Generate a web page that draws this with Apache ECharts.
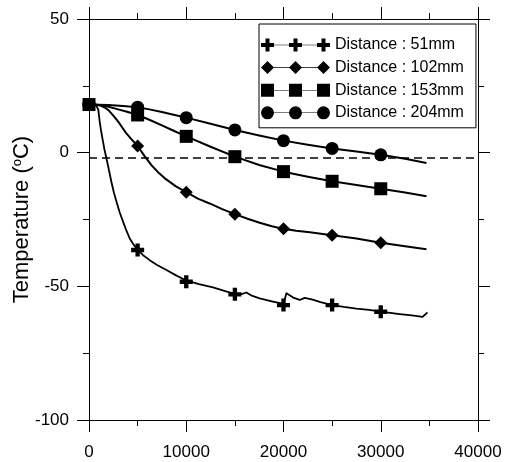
<!DOCTYPE html>
<html>
<head>
<meta charset="utf-8">
<script src="https://cdn.jsdelivr.net/npm/echarts@6/dist/echarts.min.js"></script>
<style>
html,body{margin:0;padding:0;background:#fff;}
#chart{width:505px;height:462px;}
</style>
</head>
<body>
<div id="chart"></div>
<script>
// ---- data (time in s, temperature in °C) ----
const xTicks = [0, 10000, 20000, 30000, 40000];
const yTicks = [-100, -50, 0, 50];
const seriesNames = ['Distance : 51mm', 'Distance : 102mm', 'Distance : 153mm', 'Distance : 204mm'];

const line51 = [[0,18],[700,17.9],[850,17.4],[950,16.2],[1050,13.2],[1100,11.6],[1250,8.0],[1440,4.1],[1600,1.0],[1790,-2.1],[2050,-6.5],[2300,-10.9],[2550,-14.8],[2820,-18.3],[3150,-22.3],[3500,-25.8],[3850,-29.2],[4190,-32.1],[4600,-34.5],[5000,-36.2],[5600,-38.5],[6240,-40.2],[7000,-42.0],[7960,-43.9],[9000,-46.0],[10000,-47.8],[11300,-49.2],[12750,-50.4],[14000,-51.8],[15000,-52.8],[15700,-52.9],[16180,-52.3],[16800,-53.6],[17550,-54.5],[18800,-55.6],[20000,-56.6],[20300,-52.6],[21000,-54.2],[21670,-55.1],[22180,-54.3],[23000,-55.0],[23720,-55.8],[25000,-57.0],[26200,-57.7],[27490,-58.3],[28800,-58.8],[30000,-59.5],[31950,-60.4],[33200,-60.9],[34300,-61.4],[34800,-59.8]];
const line102 = [[0,18],[800,17.9],[1200,17.6],[1600,16.9],[2000,15.9],[2300,14.7],[2650,13.2],[3000,11.6],[3400,9.5],[3800,7.4],[4400,4.9],[5000,2.5],[5700,-1.2],[6400,-4.6],[7100,-7.3],[7800,-9.6],[8900,-12.5],[10000,-14.8],[11200,-17.2],[12400,-19.0],[13700,-21.1],[15000,-23.0],[16300,-24.7],[17550,-26.2],[18800,-27.5],[20000,-28.5],[21300,-29.2],[22700,-29.8],[25000,-30.9],[27500,-32.1],[30000,-33.7],[32500,-35.0],[34700,-36.1]];
const line153 = [[0,18],[1000,17.8],[2000,17.2],[3000,16.2],[4000,15.2],[5000,14.1],[6200,12.3],[7500,10.2],[8700,8.2],[10000,6.1],[12500,2.2],[15000,-1.5],[17500,-4.6],[20000,-7.1],[22500,-9.0],[25000,-10.7],[27500,-12.1],[30000,-13.5],[32500,-14.9],[34700,-16.3]];
const line204 = [[0,18],[2000,17.8],[3500,17.5],[5000,17.0],[6200,16.2],[7500,15.2],[8700,14.2],[10000,13.1],[12500,10.8],[15000,8.5],[17500,6.4],[20000,4.5],[22500,3.0],[25000,1.6],[27500,0.4],[30000,-0.8],[32500,-2.3],[34700,-3.9]];

const markerTimes = [0, 5000, 10000, 15000, 20000, 25000, 30000];
const markers51  = [18, -36.4, -48.3, -53.0, -57.0, -57.0, -59.5];
const markers102 = [18, 2.5, -14.8, -23.0, -28.5, -30.9, -33.7];
const markers153 = [18, 14.1, 6.1, -1.5, -7.1, -10.7, -13.5];
const markers204 = [18, 17.0, 13.1, 8.5, 4.5, 1.6, -0.8];

const freezeLine = -1.8;

// ---- rendering ----
const FONT = "'Liberation Sans', Arial, sans-serif";
const crossPath = 'path://M4,0H8V4H12V8H8V12H4V8H0V4H4Z';

function legendIcon(kind) {
  const cs = [6.5, 34.5, 62.5];
  let p = 'M6,6.2H63V6.8H6Z';
  cs.forEach(c => {
    if (kind === 'cross') {
      p += `M${c-2},0H${c+2}V4.5H${c+6.5}V8.5H${c+2}V13H${c-2}V8.5H${c-6.5}V4.5H${c-2}Z`;
    } else if (kind === 'diamond') {
      p += `M${c},0L${c+6.5},6.5L${c},13L${c-6.5},6.5Z`;
    } else if (kind === 'rect') {
      p += `M${c-6.5},0H${c+6.5}V13H${c-6.5}Z`;
    } else {
      p += `M${c-6.5},6.5A6.5,6.5 0 1,1 ${c+6.5},6.5A6.5,6.5 0 1,1 ${c-6.5},6.5Z`;
    }
  });
  return 'path://' + p;
}

const pair = (ys) => markerTimes.map((t, i) => [t, ys[i]]);

function lineSeries(name, data, width) {
  return {
    name: name, type: 'line', data: data, showSymbol: false, symbol: 'none',
    smooth: false, z: 2, silent: true,
    lineStyle: { color: '#000', width: width, join: 'round' }
  };
}
function markSeries(name, data, symbol, size, z) {
  return {
    name: name, type: 'scatter', data: data, symbol: symbol, symbolSize: size, z: z, silent: true,
    itemStyle: { color: '#000', opacity: 1 }
  };
}

const chart = echarts.init(document.getElementById('chart'), null, { renderer: 'canvas' });

const axisCommonX = {
  type: 'value', min: 0, max: 40000, interval: 10000,
  axisLine: { show: true, onZero: false, lineStyle: { color: '#000', width: 1 } },
  axisTick: { show: true, inside: false, length: 12, lineStyle: { color: '#000', width: 1 } },
  minorTick: { show: true, splitNumber: 2, length: 6, lineStyle: { color: '#000', width: 1 } },
  splitLine: { show: false }
};
const axisCommonY = {
  type: 'value', min: -100, max: 50, interval: 50,
  axisLine: { show: true, onZero: false, lineStyle: { color: '#000', width: 1 } },
  axisTick: { show: true, inside: false, length: 12, lineStyle: { color: '#000', width: 1 } },
  minorTick: { show: true, splitNumber: 2, length: 6, lineStyle: { color: '#000', width: 1 } },
  splitLine: { show: false }
};

const option = {
  backgroundColor: '#fff',
  animation: false,
  textStyle: { fontFamily: FONT },
  grid: { left: 89, top: 19, width: 389, height: 401, containLabel: false, outerBoundsMode: 'none' },
  xAxis: [
    Object.assign({}, axisCommonX, {
      position: 'bottom',
      axisLabel: { show: true, margin: 24, color: '#000', fontSize: 17, fontFamily: FONT,
        formatter: v => xTicks.includes(v) ? String(v) : '' }
    }),
    Object.assign({}, axisCommonX, { position: 'top', axisLabel: { show: false } })
  ],
  yAxis: [
    Object.assign({}, axisCommonY, {
      position: 'left',
      name: 'Temperature ({s|o}C)',
      nameLocation: 'middle', nameGap: 56, nameRotate: 90, nameMoveOverlap: false,
      nameTextStyle: { color: '#000', fontSize: 22, fontFamily: FONT,
        rich: { s: { fontSize: 13, verticalAlign: 'top', lineHeight: 14, padding: [0,0,8,0], fontFamily: FONT, color: '#000' } } },
      axisLabel: { show: true, margin: 20, color: '#000', fontSize: 17, fontFamily: FONT,
        formatter: v => yTicks.includes(v) ? String(v) : '' }
    }),
    Object.assign({}, axisCommonY, { position: 'right', axisLabel: { show: false } })
  ],
  legend: {
    show: true, orient: 'vertical', left: 259, top: 24,
    padding: [13, 12, 7, 2],
    backgroundColor: '#fff', borderColor: '#000', borderWidth: 1,
    itemWidth: 69, itemHeight: 13, itemGap: 6.6,
    symbolKeepAspect: false,
    selectedMode: false,
    textStyle: { color: '#000', fontSize: 16, fontFamily: FONT, lineHeight: 16 },
    itemStyle: { borderWidth: 0 },
    data: [
      { name: seriesNames[0], icon: legendIcon('cross') },
      { name: seriesNames[1], icon: legendIcon('diamond') },
      { name: seriesNames[2], icon: legendIcon('rect') },
      { name: seriesNames[3], icon: legendIcon('circle') }
    ]
  },
  series: [
    Object.assign(lineSeries('l204', line204, 2), {
      markLine: {
        silent: true, symbol: 'none', label: { show: false },
        lineStyle: { color: '#000', width: 1.5, type: [8, 5] },
        data: [{ yAxis: freezeLine }]
      }
    }),
    lineSeries('l153', line153, 2),
    lineSeries('l102', line102, 2),
    lineSeries('l51', line51, 1.8),
    markSeries(seriesNames[3], pair(markers204), 'circle', 13, 3),
    markSeries(seriesNames[0], pair(markers51), crossPath, 13, 4),
    markSeries(seriesNames[1], pair(markers102), 'diamond', 13, 5),
    markSeries(seriesNames[2], pair(markers153), 'rect', 13, 6)
  ]
};
chart.setOption(option);
</script>
</body>
</html>
